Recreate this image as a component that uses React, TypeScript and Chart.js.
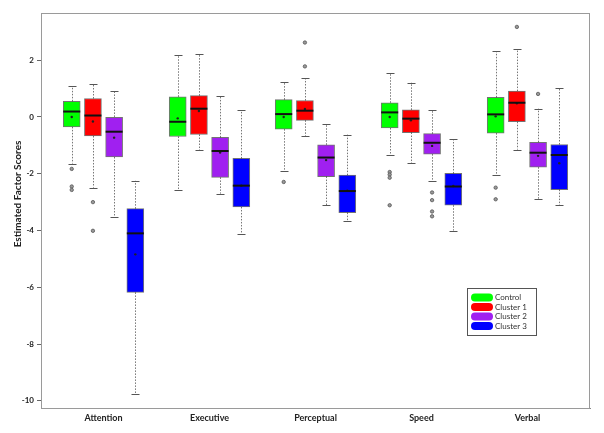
import React, { useEffect, useRef } from 'react';
import { Chart, registerables } from 'chart.js';
Chart.register(...registerables);

const categories = ['Attention', 'Executive', 'Perceptual', 'Speed', 'Verbal'];
const seriesNames = ['Control', 'Cluster 1', 'Cluster 2', 'Cluster 3'];
const seriesColors = ['#00ff00', '#ff0000', '#a020f0', '#0000ff'];
const yTickValues = [-10, -8, -6, -4, -2, 0, 2];
const yTitle = 'Estimated Factor Scores';

// one row per series (Control, Cluster 1, Cluster 2, Cluster 3), one value per category
const whiskerLow = [
  [-1.64, -2.58, -1.9, -1.34, -2.04],
  [-2.49, -1.17, -0.67, -1.63, -1.15],
  [-3.51, -2.7, -3.11, -2.24, -2.9],
  [-9.74, -4.12, -3.66, -4.0, -3.11],
];
const quartile1 = [
  [-0.35, -0.69, -0.43, -0.39, -0.57],
  [-0.67, -0.62, -0.12, -0.55, -0.17],
  [-1.41, -2.13, -2.1, -1.31, -1.77],
  [-6.18, -3.17, -3.37, -3.11, -2.56],
];
const medians = [
  [0.19, -0.17, 0.1, 0.16, 0.09],
  [0.05, 0.29, 0.22, -0.06, 0.5],
  [-0.52, -1.2, -1.43, -0.91, -1.26],
  [-4.1, -2.42, -2.61, -2.45, -1.34],
];
const means = [
  [0.0, -0.05, 0.0, 0.0, 0.02],
  [-0.16, 0.21, 0.28, -0.12, 0.48],
  [-0.73, -1.25, -1.52, -1.02, -1.37],
  [-4.84, -2.42, -2.6, -2.43, -1.63],
];
const quartile3 = [
  [0.55, 0.71, 0.61, 0.5, 0.69],
  [0.65, 0.75, 0.58, 0.25, 0.91],
  [0.0, -0.72, -0.98, -0.59, -0.89],
  [-3.23, -1.46, -2.05, -1.99, -0.97],
];
const whiskerHigh = [
  [1.08, 2.18, 1.24, 1.55, 2.32],
  [1.16, 2.2, 1.37, 1.21, 2.39],
  [0.93, 0.72, -0.25, 0.24, 0.29],
  [-2.25, 0.23, -0.62, -0.78, 1.03],
];
const outliers = [
  [[-1.83, -2.45, -2.57], [], [-2.29], [-1.94, -2.03, -2.14, -3.11], [-2.49, -2.9]],
  [[-3.0, -4.01], [], [1.78, 2.62], [], [3.17]],
  [[], [], [], [-2.66, -2.93, -3.33, -3.5], [0.81]],
  [[], [], [], [], []],
];

const seriesOffsets = [-0.3, -0.1, 0.1, 0.3];
const FONT = 'Lato, "Open Sans", sans-serif';

const boxExtras = {
  id: 'boxExtras',
  beforeDatasetsDraw(chart: any) {
    const { ctx, scales } = chart;
    const xs = scales.x, ys = scales.y;
    ctx.save();
    ctx.lineWidth = 1;
    seriesNames.forEach((_, s) => {
      categories.forEach((__, i) => {
        const x = Math.round(xs.getPixelForValue(i + 1 + seriesOffsets[s])) + 0.5;
        const pairs = [
          [quartile3[s][i], whiskerHigh[s][i]],
          [quartile1[s][i], whiskerLow[s][i]],
        ];
        pairs.forEach(([a, b]) => {
          const ya = ys.getPixelForValue(a), yb = ys.getPixelForValue(b);
          ctx.strokeStyle = '#777';
          ctx.setLineDash([1.5, 1.5]);
          ctx.beginPath();
          ctx.moveTo(x, ya);
          ctx.lineTo(x, yb);
          ctx.stroke();
          ctx.setLineDash([]);
          ctx.strokeStyle = '#555';
          ctx.beginPath();
          ctx.moveTo(x - 4, Math.round(yb) + 0.5);
          ctx.lineTo(x + 4, Math.round(yb) + 0.5);
          ctx.stroke();
        });
      });
    });
    ctx.restore();
  },
  afterDatasetsDraw(chart: any) {
    const { ctx, scales } = chart;
    const xs = scales.x, ys = scales.y;
    ctx.save();
    ctx.strokeStyle = '#111';
    ctx.lineWidth = 2;
    seriesNames.forEach((_, s) => {
      categories.forEach((__, i) => {
        const x = xs.getPixelForValue(i + 1 + seriesOffsets[s]);
        const y = ys.getPixelForValue(medians[s][i]);
        ctx.beginPath();
        ctx.moveTo(x - 8.5, y);
        ctx.lineTo(x + 8.5, y);
        ctx.stroke();
      });
    });
    ctx.restore();
  },
  afterDraw(chart: any) {
    const { ctx, chartArea } = chart;
    ctx.save();
    // frame
    ctx.strokeStyle = '#9a9a9a';
    ctx.lineWidth = 1;
    ctx.strokeRect(chartArea.left + 0.5, chartArea.top + 0.5, chartArea.right - chartArea.left - 1, chartArea.bottom - chartArea.top);
    // y title
    ctx.fillStyle = '#222';
    ctx.font = `bold 10px ${FONT}`;
    ctx.textAlign = 'center';
    ctx.textBaseline = 'middle';
    ctx.translate(18, chartArea.top + 181);
    ctx.rotate(-Math.PI / 2);
    ctx.fillText(yTitle, 0, 0);
    ctx.restore();
    // legend
    ctx.save();
    const lx = chartArea.right - 123;
    const ly = chartArea.top + 275;
    ctx.fillStyle = '#fff';
    ctx.fillRect(lx, ly, 69, 47);
    ctx.strokeStyle = '#555';
    ctx.lineWidth = 1;
    ctx.strokeRect(lx + 0.5, ly + 0.5, 69, 47);
    ctx.font = `8px ${FONT}`;
    ctx.textBaseline = 'middle';
    seriesNames.forEach((name, s) => {
      const cy = ly + 9.5 + s * 9.5;
      ctx.fillStyle = seriesColors[s];
      ctx.beginPath();
      (ctx as any).roundRect(lx + 4, cy - 4, 22, 8, 4);
      ctx.fill();
      ctx.fillStyle = '#333';
      ctx.fillText(name, lx + 28, cy);
    });
    ctx.restore();
  },
};

export default function App() {
  const ref = useRef<HTMLCanvasElement | null>(null);
  useEffect(() => {
    if (!ref.current) return;
    const boxSets = seriesNames.map((name, s) => ({
      type: 'bar' as const,
      label: name,
      data: categories.map((_, i) => ({ x: i + 1 + seriesOffsets[s], y: [quartile1[s][i], quartile3[s][i]] })),
      backgroundColor: seriesColors[s],
      borderColor: 'rgba(0,0,0,0.55)',
      borderWidth: 1,
      borderSkipped: false,
      barThickness: 17,
      grouped: false,
      order: 2,
    }));
    const meanSets = seriesNames.map((name, s) => ({
      type: 'scatter' as const,
      label: name + ' mean',
      data: categories.map((_, i) => ({ x: i + 1 + seriesOffsets[s], y: means[s][i] })),
      pointRadius: 1.2,
      pointBackgroundColor: '#222',
      pointBorderColor: '#222',
      pointBorderWidth: 0,
      order: 1,
    }));
    const outlierSets = seriesNames.map((name, s) => ({
      type: 'scatter' as const,
      label: name + ' outliers',
      data: categories.flatMap((_, i) => outliers[s][i].map((v) => ({ x: i + 1 + seriesOffsets[s], y: v }))),
      pointRadius: 1.7,
      pointBackgroundColor: '#999',
      pointBorderColor: '#555',
      pointBorderWidth: 0.8,
      order: 1,
    }));
    const chart = new Chart(ref.current, {
      type: 'bar',
      data: { datasets: [...boxSets, ...meanSets, ...outlierSets] as any },
      options: {
        animation: false,
        responsive: false,
        layout: { padding: { top: 13, right: 14, left: 0, bottom: 0 } },
        plugins: { legend: { display: false }, tooltip: { enabled: false } },
        scales: {
          x: {
            type: 'linear',
            min: 0.41,
            max: 5.59,
            offset: false,
            afterBuildTicks: (scale: any) => {
              scale.ticks = categories.map((_, i) => ({ value: i + 1 }));
            },
            afterFit: (scale: any) => {
              scale.height = 25;
            },
            grid: { display: false, drawTicks: false, tickLength: 0 },
            border: { display: true, color: '#888', width: 1 },
            ticks: {
              autoSkip: false,
              maxRotation: 0,
              padding: 5,
              color: '#222',
              font: { family: FONT, size: 9, weight: 'bold' },
              callback: (v: any) => categories[Math.round(Number(v)) - 1] ?? '',
            },
          },
          y: {
            type: 'linear',
            min: -10.25,
            max: 3.66,
            afterBuildTicks: (scale: any) => {
              scale.ticks = yTickValues.map((v) => ({ value: v }));
            },
            afterFit: (scale: any) => {
              scale.width = 41;
            },
            grid: { drawOnChartArea: false, drawTicks: true, tickLength: 4, color: '#666' },
            border: { display: true, color: '#888', width: 1 },
            ticks: {
              padding: 3,
              color: '#222',
              font: { family: FONT, size: 8, weight: 'bold' },
            },
          },
        },
      },
      plugins: [boxExtras],
    });
    return () => chart.destroy();
  }, []);
  return (
    <div style={{ position: 'fixed', left: 0, top: 0, width: 604, height: 433, background: '#fff' }}>
      <canvas ref={ref} width={604} height={433} style={{ width: 604, height: 433 }} />
    </div>
  );
}
